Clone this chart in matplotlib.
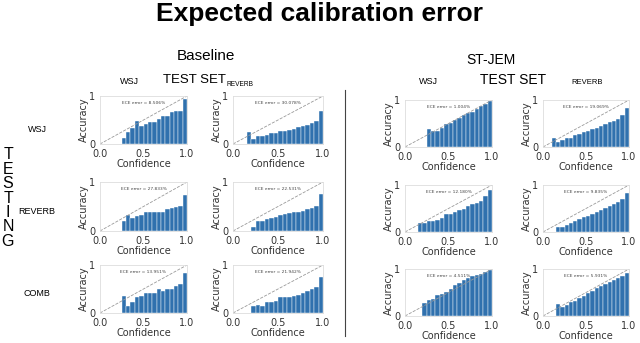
import numpy as np
import matplotlib
matplotlib.use("Agg")
import matplotlib.pyplot as plt

# bin accuracies (bins of width 0.05, first bin given by *_start)
base_wsj_wsj_start = 0.25
base_wsj_wsj = [0.12, 0.24, 0.33, 0.47, 0.37, 0.42, 0.46, 0.46, 0.52, 0.58, 0.59, 0.66, 0.68, 0.69, 0.93]
base_wsj_rev_start = 0.15
base_wsj_rev = [0.26, 0.10, 0.17, 0.17, 0.19, 0.22, 0.23, 0.28, 0.28, 0.30, 0.32, 0.35, 0.37, 0.39, 0.44, 0.47, 0.68]
base_rev_wsj_start = 0.25
base_rev_wsj = [0.20, 0.33, 0.26, 0.30, 0.33, 0.38, 0.38, 0.38, 0.39, 0.39, 0.44, 0.46, 0.48, 0.52, 0.74]
base_rev_rev_start = 0.20
base_rev_rev = [0.08, 0.20, 0.20, 0.24, 0.26, 0.29, 0.32, 0.35, 0.36, 0.38, 0.39, 0.41, 0.44, 0.47, 0.51, 0.76]
base_comb_wsj_start = 0.25
base_comb_wsj = [0.36, 0.14, 0.23, 0.34, 0.36, 0.41, 0.42, 0.42, 0.49, 0.45, 0.51, 0.51, 0.57, 0.61, 0.83]
base_comb_rev_start = 0.20
base_comb_rev = [0.14, 0.17, 0.14, 0.22, 0.22, 0.24, 0.33, 0.33, 0.34, 0.36, 0.38, 0.42, 0.45, 0.49, 0.54, 0.76]

jem_wsj_wsj_start = 0.25
jem_wsj_wsj = [0.38, 0.34, 0.33, 0.41, 0.48, 0.51, 0.57, 0.61, 0.69, 0.72, 0.75, 0.80, 0.87, 0.91, 0.97]
jem_wsj_rev_start = 0.10
jem_wsj_rev = [0.19, 0.10, 0.15, 0.19, 0.20, 0.26, 0.28, 0.31, 0.34, 0.39, 0.41, 0.45, 0.50, 0.53, 0.56, 0.60, 0.69, 0.83]
jem_rev_wsj_start = 0.15
jem_rev_wsj = [0.20, 0.20, 0.24, 0.24, 0.26, 0.29, 0.38, 0.38, 0.43, 0.47, 0.50, 0.55, 0.60, 0.62, 0.67, 0.76, 0.90]
jem_rev_rev_start = 0.15
jem_rev_rev = [0.10, 0.10, 0.15, 0.19, 0.24, 0.27, 0.31, 0.35, 0.39, 0.42, 0.47, 0.52, 0.55, 0.60, 0.64, 0.71, 0.83]
jem_comb_wsj_start = 0.20
jem_comb_wsj = [0.28, 0.33, 0.36, 0.45, 0.47, 0.52, 0.57, 0.66, 0.70, 0.76, 0.81, 0.85, 0.88, 0.90, 0.93, 0.97]
jem_comb_rev_start = 0.15
jem_comb_rev = [0.26, 0.19, 0.23, 0.29, 0.32, 0.38, 0.43, 0.48, 0.54, 0.60, 0.64, 0.68, 0.72, 0.76, 0.81, 0.85, 0.92]

base_ece = ["8.506%", "30.078%", "27.833%", "22.531%", "13.951%", "21.942%"]
jem_ece = ["1.004%", "19.069%", "12.180%", "9.835%", "4.511%", "5.931%"]

row_labels = ["WSJ", "REVERB", "COMB"]
col_labels = ["WSJ", "REVERB"]

BAR = "#3071ae"
W, H = 640, 343

fig = plt.figure(figsize=(6.4, 3.43), dpi=100)
plt.rcParams["font.family"] = ["DejaVu Sans"]


def px_axes(x0, y0, x1, y1):
    return fig.add_axes([x0 / W, 1 - y1 / H, (x1 - x0) / W, (y1 - y0) / H])


def reliability(ax, start, acc, ece):
    edges = start + 0.05 * np.arange(len(acc))
    ax.bar(edges, acc, width=0.05, align="edge", color=BAR,
           edgecolor="white", linewidth=0.3)
    ax.plot([0, 1], [0, 1], ls="--", color="#999999", lw=0.6)
    ax.set_xlim(0, 1)
    ax.set_ylim(0, 1)
    ax.set_xticks([0, 0.5, 1.0])
    ax.set_xticklabels(["0.0", "0.5", "1.0"])
    ax.set_yticks([0, 1])
    ax.set_yticklabels(["0", "1"])
    ax.tick_params(length=0, labelsize=7, colors="#333333", pad=3.5)
    ax.set_xlabel("Confidence", fontsize=7, color="#333333", labelpad=0.3)
    ax.set_ylabel("Accuracy", fontsize=7, color="#333333", labelpad=0.3)
    for s in ax.spines.values():
        s.set_color("#dddddd")
        s.set_linewidth(0.6)
    ax.text(0.5, 0.86, "ECE error = " + ece, transform=ax.transAxes,
            fontsize=3.2, color="#444444", ha="center", va="center")


base_data = [(base_wsj_wsj_start, base_wsj_wsj), (base_wsj_rev_start, base_wsj_rev),
             (base_rev_wsj_start, base_rev_wsj), (base_rev_rev_start, base_rev_rev),
             (base_comb_wsj_start, base_comb_wsj), (base_comb_rev_start, base_comb_rev)]
jem_data = [(jem_wsj_wsj_start, jem_wsj_wsj), (jem_wsj_rev_start, jem_wsj_rev),
            (jem_rev_wsj_start, jem_rev_wsj), (jem_rev_rev_start, jem_rev_rev),
            (jem_comb_wsj_start, jem_comb_wsj), (jem_comb_rev_start, jem_comb_rev)]

# pixel boxes of the panels
base_cols = [(100, 187), (233, 323)]
base_rows = [(96, 144), (182, 231), (265, 313)]
jem_cols = [(405, 492), (543, 629)]
jem_rows = [(100, 147), (185, 232), (269, 316)]

for i in range(3):
    for j in range(2):
        k = i * 2 + j
        ax = px_axes(base_cols[j][0], base_rows[i][0], base_cols[j][1], base_rows[i][1])
        reliability(ax, base_data[k][0], base_data[k][1], base_ece[k])
        ax = px_axes(jem_cols[j][0], jem_rows[i][0], jem_cols[j][1], jem_rows[i][1])
        reliability(ax, jem_data[k][0], jem_data[k][1], jem_ece[k])

hdr = ["Liberation Sans", "DejaVu Sans"]
fig.text(320 / W, 1 - 14 / H, "Expected calibration error", fontsize=19,
         fontweight="bold", ha="center", va="center", family=hdr)

fig.text(206 / W, 1 - 56 / H, "Baseline", fontsize=11, ha="center", va="center", family=hdr)
fig.text(194 / W, 1 - 80 / H, "TEST SET", fontsize=9.5, ha="center", va="center", family=hdr)
fig.text(129 / W, 1 - 82 / H, "WSJ", fontsize=6.5, ha="center", va="center", family=hdr)
fig.text(240 / W, 1 - 85 / H, "REVERB", fontsize=4.8, ha="center", va="center", family=hdr)

fig.text(491 / W, 1 - 60 / H, "ST-JEM", fontsize=10, ha="center", va="center", family=hdr)
fig.text(513 / W, 1 - 80 / H, "TEST SET", fontsize=10, ha="center", va="center", family=hdr)
fig.text(428 / W, 1 - 82 / H, "WSJ", fontsize=6.5, ha="center", va="center", family=hdr)
fig.text(587 / W, 1 - 83 / H, "REVERB", fontsize=5.5, ha="center", va="center", family=hdr)

for lab, y in zip(row_labels, [130, 212, 294]):
    fig.text(37 / W, 1 - y / H, lab, fontsize=6.5, ha="center", va="center", family=hdr)

fig.text(8 / W, 1 - 198 / H, "\n".join("TESTING"), fontsize=11.5, ha="center",
         va="center", linespacing=0.95, family=hdr)

fig.add_artist(plt.Line2D([345 / W, 345 / W], [1 - 90 / H, 1 - 336 / H],
                          color="#444444", lw=0.8, transform=fig.transFigure))

fig.savefig("out.png", dpi=100)
